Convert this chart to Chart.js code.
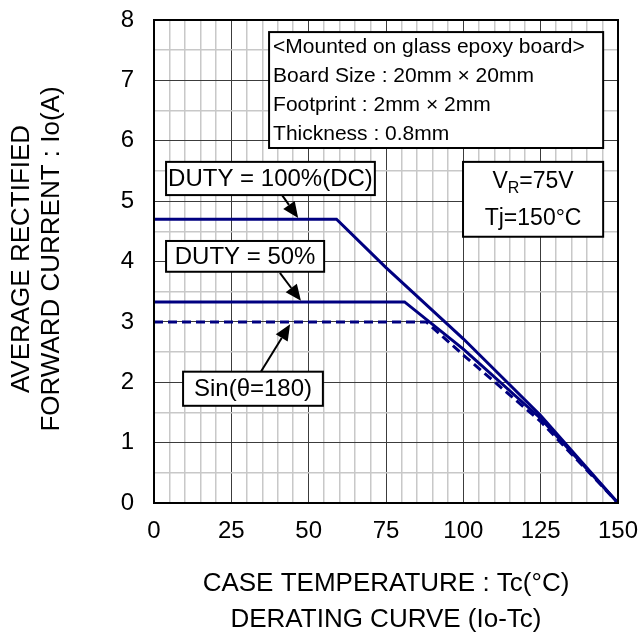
<!DOCTYPE html>
<html>
<head>
<meta charset="utf-8">
<script src="https://cdn.jsdelivr.net/npm/chart.js@4/dist/chart.umd.min.js"></script>
<style>
  html, body { margin: 0; padding: 0; background: #fff; }
  #wrap { width: 641px; height: 634px; }
</style>
</head>
<body>
<div id="wrap"><canvas id="derating" width="641" height="634"></canvas></div>
<script>
// ── Io-Tc derating curve ─────────────────────────────────────────────────────
// Case temperature (°C) vs average rectified forward current (A)

const dcTemp   = [0, 59, 75, 100, 125, 150];
const dcIo     = [4.7, 4.7, 3.9, 2.72, 1.45, 0];

const d50Temp  = [0, 81, 100, 125, 150];
const d50Io    = [3.33, 3.33, 2.55, 1.4, 0];

const sinTemp  = [0, 88, 100, 125, 150];
const sinIo    = [3.0, 3.0, 2.45, 1.35, 0];

const xTicks   = [0, 25, 50, 75, 100, 125, 150];
const yTicks   = [0, 1, 2, 3, 4, 5, 6, 7, 8];

const LINE_COLOR = '#000080';
const FONT       = '"Liberation Sans", Arial, sans-serif';

const pts = (xs, ys) => xs.map((x, i) => ({ x, y: ys[i] }));

// label boxes / arrows in data units
const boxes = [
  { x0: 37.2, x1: 145.2, y0: 7.80, y1: 5.88, size: 21, align: 'left',
    lines: ['<Mounted on glass epoxy board>', 'Board Size : 20mm × 20mm', 'Footprint : 2mm × 2mm', 'Thickness : 0.8mm'] },
  { x0: 3.9,  x1: 71.4,  y0: 5.65, y1: 5.10, size: 24, align: 'center', lines: ['DUTY = 100%(DC)'] },
  { x0: 3.9,  x1: 55.0,  y0: 4.34, y1: 3.83, size: 24, align: 'center', lines: ['DUTY = 50%'] },
  { x0: 9.4,  x1: 54.6,  y0: 2.175, y1: 1.61, size: 24, align: 'center', lines: ['Sin(θ=180)'] },
  { x0: 99.9, x1: 145.2, y0: 5.65, y1: 4.41, size: 23, align: 'center', lines: ['VR', 'Tj=150°C'] },
];

const arrows = [
  { from: [41.4, 5.10], to: [46.6, 4.72] },
  { from: [40.7, 3.81], to: [47.5, 3.35] },
  { from: [34.5, 2.17], to: [44.0, 2.96] },
];

function drawVR(ctx, cx, cy, size) {
  const big = size + 'px ' + FONT, small = Math.round(size * 0.7) + 'px ' + FONT;
  ctx.font = big;   const wV = ctx.measureText('V').width;
  ctx.font = small; const wR = ctx.measureText('R').width;
  ctx.font = big;   const wT = ctx.measureText('=75V').width;
  let x = cx - (wV + wR + wT) / 2;
  ctx.textAlign = 'left';
  ctx.font = big;   ctx.fillText('V', x, cy); x += wV;
  ctx.font = small; ctx.fillText('R', x, cy + 7); x += wR;
  ctx.font = big;   ctx.fillText('=75V', x, cy);
}

const annotate = {
  id: 'annotate',
  afterDatasetsDraw(chart) {
    const { ctx, chartArea: a, scales: { x, y } } = chart;
    ctx.save();

    // frame
    ctx.strokeStyle = '#000';
    ctx.lineWidth = 2;
    ctx.strokeRect(a.left, a.top, a.right - a.left, a.bottom - a.top);

    // arrows
    ctx.fillStyle = '#000';
    ctx.lineWidth = 2;
    arrows.forEach(({ from, to }) => {
      const x0 = x.getPixelForValue(from[0]), y0 = y.getPixelForValue(from[1]);
      const x1 = x.getPixelForValue(to[0]),   y1 = y.getPixelForValue(to[1]);
      const ang = Math.atan2(y1 - y0, x1 - x0), len = 16, w = 7;
      const bx = x1 - len * Math.cos(ang), by = y1 - len * Math.sin(ang);
      ctx.beginPath(); ctx.moveTo(x0, y0); ctx.lineTo(bx, by); ctx.stroke();
      ctx.beginPath();
      ctx.moveTo(x1, y1);
      ctx.lineTo(bx + w * Math.sin(ang), by - w * Math.cos(ang));
      ctx.lineTo(bx - w * Math.sin(ang), by + w * Math.cos(ang));
      ctx.closePath(); ctx.fill();
    });

    // boxes
    boxes.forEach(b => {
      const l = x.getPixelForValue(b.x0), r = x.getPixelForValue(b.x1);
      const t = y.getPixelForValue(b.y0), btm = y.getPixelForValue(b.y1);
      ctx.fillStyle = '#fff';
      ctx.fillRect(l, t, r - l, btm - t);
      ctx.strokeStyle = '#000'; ctx.lineWidth = 2;
      ctx.strokeRect(l, t, r - l, btm - t);
      ctx.fillStyle = '#000';
      ctx.textBaseline = 'middle';
      ctx.font = b.size + 'px ' + FONT;
      const step = (btm - t) / b.lines.length;
      b.lines.forEach((txt, i) => {
        const cy = t + step * (i + 0.5) + 1;
        if (txt === 'VR') { drawVR(ctx, (l + r) / 2, cy, b.size); ctx.font = b.size + 'px ' + FONT; return; }
        if (b.align === 'left') { ctx.textAlign = 'left'; ctx.fillText(txt, l + 4, cy); }
        else { ctx.textAlign = 'center'; ctx.fillText(txt, (l + r) / 2, cy); }
      });
    });

    // axis titles
    ctx.fillStyle = '#000';
    ctx.textAlign = 'center';
    ctx.textBaseline = 'middle';
    ctx.font = '26px ' + FONT;
    const cx = (a.left + a.right) / 2;
    ctx.fillText('CASE TEMPERATURE : Tc(°C)', cx, 584);
    ctx.fillText('DERATING CURVE (Io-Tc)', cx, 620);

    ctx.translate(0, 259);
    ctx.rotate(-Math.PI / 2);
    ctx.fillText('AVERAGE RECTIFIED', 0, 22);
    ctx.fillText('FORWARD CURRENT : Io(A)', 0, 52);
    ctx.restore();
  },
};

const gridColor = (major) => (c) => (major(c.tick.value) ? '#3c3c3c' : '#c8c8c8');
const noPad = s => { s.paddingTop = 0; s.paddingBottom = 0; s.paddingLeft = 0; s.paddingRight = 0; };

new Chart(document.getElementById('derating'), {
  type: 'scatter',
  data: {
    datasets: [
      { label: 'DUTY = 100%(DC)', data: pts(dcTemp, dcIo),
        showLine: true, borderColor: LINE_COLOR, borderWidth: 3, pointRadius: 0, tension: 0 },
      { label: 'DUTY = 50%', data: pts(d50Temp, d50Io),
        showLine: true, borderColor: LINE_COLOR, borderWidth: 3, pointRadius: 0, tension: 0 },
      { label: 'Sin(θ=180)', data: pts(sinTemp, sinIo),
        showLine: true, borderColor: LINE_COLOR, borderWidth: 3, borderDash: [9, 5], pointRadius: 0, tension: 0 },
    ],
  },
  options: {
    responsive: false,
    animation: false,
    layout: { padding: { top: 20, right: 23, left: 0, bottom: 0 } },
    plugins: {
      legend:  { display: false },
      tooltip: { enabled: false },
    },
    scales: {
      x: {
        type: 'linear', min: 0, max: 150,
        afterFit: s => { s.height = 131; noPad(s); },
        grid: { color: gridColor(v => xTicks.includes(v)), lineWidth: c => (xTicks.includes(c.tick.value) ? 1 : 1.5), drawTicks: false },
        border: { color: '#000', width: 2 },
        ticks: {
          stepSize: 5, autoSkip: false, maxRotation: 0, padding: 14,
          color: '#000', font: { family: FONT, size: 24 },
          callback: v => (xTicks.includes(v) ? v : ''),
        },
      },
      y: {
        type: 'linear', min: 0, max: 8,
        afterFit: s => { s.width = 154; noPad(s); },
        grid: { color: gridColor(v => yTicks.includes(v)), lineWidth: c => (yTicks.includes(c.tick.value) ? 1 : 1.5), drawTicks: false },
        border: { color: '#000', width: 2 },
        ticks: {
          stepSize: 0.5, autoSkip: false, padding: 20,
          color: '#000', font: { family: FONT, size: 24 },
          callback: v => (yTicks.includes(v) ? v : ''),
        },
      },
    },
  },
  plugins: [annotate],
});
</script>
</body>
</html>
